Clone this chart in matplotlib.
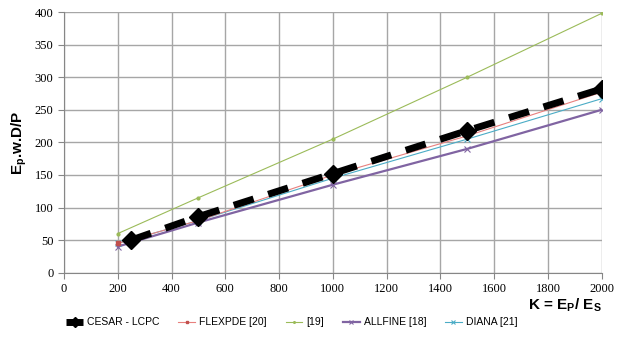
import matplotlib
matplotlib.use('Agg')
import matplotlib.pyplot as plt

plt.rcParams['font.family'] = 'serif'
plt.rcParams['font.serif'] = ['Liberation Serif', 'DejaVu Serif']

# data
k_cesar = [250, 500, 1000, 1500, 2000]
cesar = [50, 86, 152, 218, 282]
k_other = [200, 500, 1000, 1500, 2000]
flexpde = [45, 80, 150, 210, 277]
ref19 = [60, 115, 205, 300, 398]
allfine = [40, 77, 135, 190, 250]
diana = [45, 80, 145, 205, 267]
xticks = list(range(0, 2001, 200))
yticks = list(range(0, 401, 50))

fig = plt.figure(figsize=(6.21, 3.43), dpi=100)
ax = fig.add_axes([0.103, 0.205, 0.866, 0.76])

ax.plot(k_other, ref19, color='#9bbb59', lw=0.8, marker='o', ms=2, label='[19]', zorder=3)
ax.plot(k_other, allfine, color='#8064a2', lw=1.6, marker='x', ms=5, mew=0.8, label='ALLFINE [18]', zorder=3)
ax.plot(k_other, diana, color='#4bacc6', lw=0.8, marker='x', ms=4, mew=0.8, label='DIANA [21]', zorder=3)
ax.plot(k_other, flexpde, color='#e8807e', lw=0.8, marker='s', ms=3, mfc='#c0504d', mec='#c0504d', label='FLEXPDE [20]', zorder=3)
ax.plot(k_cesar, cesar, color='black', lw=5, ls=(0, (3, 2.2)), marker='D', ms=9, label='CESAR - LCPC', zorder=4)

ax.set_xlim(0, 2000)
ax.set_ylim(0, 400)
ax.set_xticks(xticks)
ax.set_xticklabels([str(v) for v in xticks], fontfamily='Liberation Serif', fontsize=9)
ax.set_yticks(yticks)
ax.set_yticklabels([str(v) for v in yticks], fontfamily='Liberation Serif', fontsize=9)
ax.grid(True, color='#a6a6a6', lw=1)
ax.set_axisbelow(True)
for s in ['top', 'right']:
    ax.spines[s].set_visible(False)
for s in ['left', 'bottom']:
    ax.spines[s].set_color('#868686')
ax.tick_params(length=4, color='#868686')

ax.set_ylabel('E$_\\mathregular{p}$.w.D/P', fontsize=11, fontweight='bold', family='Liberation Sans')
ax.text(1.0, -0.09, 'K = E$_\\mathregular{P}$/ E$_\\mathregular{S}$', transform=ax.transAxes,
        ha='right', va='top', fontsize=11, fontweight='bold', family='Liberation Sans')

h, l = ax.get_legend_handles_labels()
order = [4, 3, 0, 1, 2]
fig.legend([h[i] for i in order], [l[i] for i in order], loc='center',
           bbox_to_anchor=(0.47, 0.06), ncol=5, frameon=False,
           prop={'family': 'Liberation Sans', 'size': 7.5}, markerscale=0.6,
           handlelength=1.6, handletextpad=0.4, columnspacing=1.8)

fig.savefig('out.png', dpi=100)
plt.close()
